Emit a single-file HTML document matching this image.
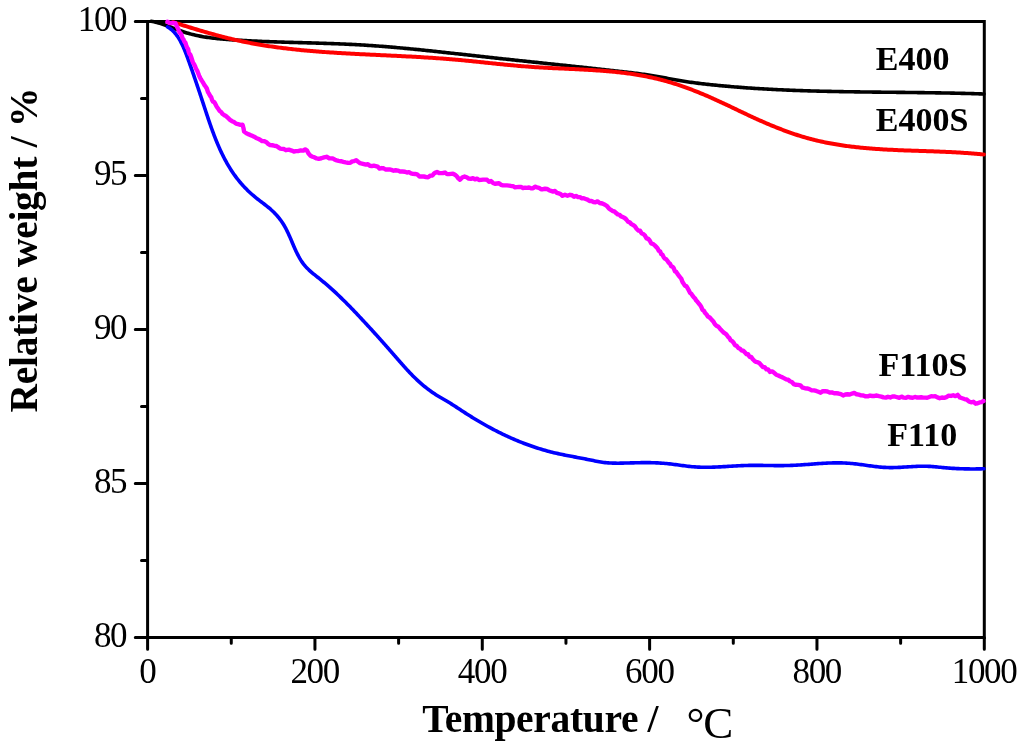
<!DOCTYPE html>
<html><head><meta charset="utf-8"><style>
html,body{margin:0;padding:0;background:#fff;width:1024px;height:748px;overflow:hidden}
svg{display:block;filter:blur(0.35px)}
.t{font-family:"Liberation Serif",serif;font-size:35px;letter-spacing:-1.3px;fill:#000}
.b{font-family:"Liberation Serif",serif;font-weight:bold;fill:#000}
</style></head><body>
<svg width="1024" height="748" viewBox="0 0 1024 748">
<rect x="0" y="0" width="1024" height="748" fill="#fff"/>
<g fill="none" stroke="#000" stroke-width="3" stroke-linecap="round">
<path d="M147.60,21.50 H984.30 V637.40 H147.60 Z" stroke-linecap="butt" stroke-linejoin="miter"/>
<path d="M147.60,637.40 V649.30 M314.94,637.40 V649.30 M482.28,637.40 V649.30 M649.62,637.40 V649.30 M816.96,637.40 V649.30 M984.30,637.40 V649.30 M231.27,637.40 V643.30 M398.61,637.40 V643.30 M565.95,637.40 V643.30 M733.29,637.40 V643.30 M900.63,637.40 V643.30 M135.30,637.40 H147.60 M135.30,483.42 H147.60 M135.30,329.45 H147.60 M135.30,175.47 H147.60 M135.30,21.50 H147.60 M141.50,560.41 H147.60 M141.50,406.44 H147.60 M141.50,252.46 H147.60 M141.50,98.49 H147.60"/>
</g>
<g fill="none" stroke-linecap="round" stroke-linejoin="round">
<path d="M151.12,21.24 L152.59,21.50 L154.07,21.80 L155.53,22.14 L156.99,22.50 L158.44,22.89 L159.88,23.31 L161.32,23.75 L162.74,24.22 L164.17,24.70 L165.58,25.20 L167.00,25.71 L168.41,26.23 L169.81,26.76 L171.21,27.29 L172.62,27.83 L174.02,28.38 L175.42,28.92 L176.82,29.45 L178.23,29.98 L179.63,30.51 L181.05,31.02 L182.46,31.52 L183.89,32.00 L185.32,32.46 L186.75,32.91 L188.19,33.33 L189.64,33.74 L191.09,34.13 L192.54,34.50 L194.00,34.85 L195.47,35.19 L196.93,35.51 L198.40,35.82 L199.88,36.11 L201.35,36.39 L202.83,36.66 L204.31,36.91 L205.79,37.14 L207.28,37.37 L208.77,37.58 L210.25,37.79 L211.74,37.98 L213.24,38.16 L214.73,38.33 L216.22,38.50 L217.71,38.65 L219.21,38.80 L220.70,38.94 L222.20,39.08 L223.70,39.20 L225.19,39.33 L226.69,39.44 L228.19,39.55 L229.69,39.66 L231.19,39.77 L232.68,39.87 L234.18,39.97 L235.68,40.06 L237.18,40.15 L238.68,40.25 L240.18,40.33 L241.68,40.42 L243.18,40.51 L244.68,40.59 L246.18,40.67 L247.68,40.75 L249.18,40.82 L250.68,40.90 L252.18,40.97 L253.68,41.04 L255.18,41.11 L256.68,41.17 L258.18,41.24 L259.68,41.30 L261.18,41.37 L262.68,41.43 L264.19,41.49 L265.69,41.54 L267.19,41.60 L268.69,41.66 L270.19,41.71 L271.69,41.76 L273.19,41.81 L274.69,41.87 L276.19,41.92 L277.69,41.96 L279.20,42.01 L280.70,42.06 L282.20,42.11 L283.70,42.15 L285.20,42.20 L286.70,42.24 L288.20,42.29 L289.71,42.33 L291.21,42.37 L292.71,42.42 L294.21,42.46 L295.71,42.50 L297.21,42.54 L298.71,42.59 L300.22,42.63 L301.72,42.67 L303.22,42.71 L304.72,42.75 L306.22,42.80 L307.72,42.84 L309.22,42.88 L310.73,42.92 L312.23,42.97 L313.73,43.01 L315.23,43.06 L316.73,43.10 L318.23,43.15 L319.73,43.19 L321.24,43.24 L322.74,43.29 L324.24,43.33 L325.74,43.38 L327.24,43.43 L328.74,43.48 L330.24,43.54 L331.74,43.59 L333.24,43.64 L334.75,43.70 L336.25,43.76 L337.75,43.81 L339.25,43.87 L340.75,43.94 L342.25,44.00 L343.75,44.06 L345.25,44.13 L346.75,44.19 L348.25,44.26 L349.75,44.33 L351.25,44.41 L352.75,44.48 L354.25,44.56 L355.75,44.64 L357.25,44.72 L358.75,44.80 L360.25,44.88 L361.75,44.97 L363.25,45.06 L364.75,45.15 L366.25,45.24 L367.75,45.34 L369.25,45.44 L370.75,45.54 L372.24,45.64 L373.74,45.75 L375.24,45.85 L376.74,45.96 L378.24,46.07 L379.74,46.18 L381.23,46.30 L382.73,46.41 L384.23,46.53 L385.73,46.65 L387.22,46.77 L388.72,46.89 L390.22,47.02 L391.71,47.14 L393.21,47.27 L394.71,47.40 L396.20,47.53 L397.70,47.67 L399.19,47.80 L400.69,47.94 L402.19,48.07 L403.68,48.21 L405.18,48.35 L406.67,48.49 L408.17,48.63 L409.66,48.78 L411.16,48.92 L412.65,49.07 L414.15,49.21 L415.64,49.36 L417.14,49.51 L418.63,49.66 L420.13,49.81 L421.62,49.97 L423.11,50.12 L424.61,50.27 L426.10,50.43 L427.60,50.59 L429.09,50.74 L430.58,50.90 L432.08,51.06 L433.57,51.22 L435.06,51.38 L436.56,51.54 L438.05,51.70 L439.55,51.86 L441.04,52.02 L442.53,52.18 L444.02,52.35 L445.52,52.51 L447.01,52.68 L448.50,52.84 L450.00,53.00 L451.49,53.17 L452.98,53.33 L454.48,53.50 L455.97,53.67 L457.46,53.83 L458.95,54.00 L460.45,54.16 L461.94,54.33 L463.43,54.50 L464.93,54.66 L466.42,54.83 L467.91,55.00 L469.40,55.16 L470.90,55.33 L472.39,55.50 L473.88,55.66 L475.37,55.83 L476.87,55.99 L478.36,56.16 L479.85,56.32 L481.35,56.49 L482.84,56.65 L484.33,56.82 L485.83,56.98 L487.32,57.14 L488.81,57.30 L490.31,57.47 L491.80,57.63 L493.29,57.79 L494.79,57.95 L496.28,58.12 L497.77,58.28 L499.27,58.44 L500.76,58.60 L502.25,58.76 L503.75,58.92 L505.24,59.08 L506.73,59.24 L508.23,59.40 L509.72,59.56 L511.21,59.72 L512.71,59.88 L514.20,60.04 L515.69,60.19 L517.19,60.35 L518.68,60.51 L520.17,60.67 L521.67,60.83 L523.16,60.99 L524.66,61.15 L526.15,61.30 L527.64,61.46 L529.14,61.62 L530.63,61.78 L532.12,61.93 L533.62,62.09 L535.11,62.25 L536.61,62.41 L538.10,62.57 L539.59,62.72 L541.09,62.88 L542.58,63.04 L544.07,63.20 L545.57,63.35 L547.06,63.51 L548.56,63.67 L550.05,63.83 L551.54,63.98 L553.04,64.14 L554.53,64.30 L556.02,64.46 L557.52,64.62 L559.01,64.77 L560.51,64.93 L562.00,65.09 L563.49,65.25 L564.99,65.41 L566.48,65.57 L567.97,65.72 L569.47,65.88 L570.96,66.04 L572.45,66.20 L573.95,66.36 L575.44,66.52 L576.93,66.68 L578.43,66.84 L579.92,67.00 L581.42,67.16 L582.91,67.32 L584.40,67.48 L585.90,67.64 L587.39,67.81 L588.88,67.97 L590.38,68.13 L591.87,68.29 L593.36,68.45 L594.85,68.62 L596.35,68.78 L597.84,68.94 L599.33,69.11 L600.83,69.27 L602.32,69.44 L603.81,69.60 L605.31,69.77 L606.80,69.93 L608.29,70.10 L609.78,70.26 L611.28,70.43 L612.77,70.60 L614.26,70.77 L615.76,70.93 L617.25,71.10 L618.74,71.27 L620.23,71.44 L621.73,71.61 L623.22,71.78 L624.71,71.95 L626.20,72.12 L627.69,72.30 L629.19,72.47 L630.68,72.65 L632.17,72.83 L633.66,73.01 L635.15,73.19 L636.64,73.38 L638.13,73.57 L639.62,73.76 L641.11,73.96 L642.60,74.16 L644.09,74.37 L645.57,74.58 L647.06,74.79 L648.55,75.01 L650.03,75.24 L651.51,75.47 L653.00,75.71 L654.48,75.95 L655.96,76.21 L657.44,76.46 L658.92,76.73 L660.40,77.00 L661.87,77.28 L663.35,77.56 L664.82,77.84 L666.30,78.13 L667.77,78.41 L669.25,78.70 L670.72,78.98 L672.20,79.26 L673.67,79.53 L675.15,79.80 L676.63,80.07 L678.11,80.33 L679.59,80.58 L681.07,80.82 L682.56,81.06 L684.04,81.29 L685.52,81.52 L687.01,81.74 L688.50,81.96 L689.98,82.17 L691.47,82.38 L692.96,82.58 L694.45,82.78 L695.94,82.97 L697.43,83.16 L698.92,83.35 L700.41,83.53 L701.90,83.70 L703.39,83.88 L704.89,84.05 L706.38,84.21 L707.87,84.38 L709.36,84.54 L710.86,84.70 L712.35,84.85 L713.85,85.01 L715.34,85.16 L716.84,85.31 L718.33,85.45 L719.83,85.60 L721.32,85.74 L722.82,85.88 L724.31,86.01 L725.81,86.15 L727.30,86.28 L728.80,86.41 L730.30,86.54 L731.79,86.67 L733.29,86.80 L734.79,86.92 L736.28,87.04 L737.78,87.16 L739.28,87.27 L740.78,87.39 L742.28,87.50 L743.77,87.61 L745.27,87.72 L746.77,87.83 L748.27,87.94 L749.77,88.04 L751.26,88.14 L752.76,88.24 L754.26,88.34 L755.76,88.44 L757.26,88.53 L758.76,88.62 L760.26,88.71 L761.76,88.80 L763.26,88.89 L764.76,88.98 L766.26,89.06 L767.76,89.14 L769.26,89.23 L770.76,89.31 L772.26,89.38 L773.76,89.46 L775.26,89.54 L776.76,89.61 L778.26,89.68 L779.76,89.75 L781.26,89.82 L782.76,89.89 L784.26,89.96 L785.76,90.02 L787.26,90.08 L788.76,90.15 L790.26,90.21 L791.76,90.27 L793.26,90.33 L794.76,90.38 L796.27,90.44 L797.77,90.49 L799.27,90.55 L800.77,90.60 L802.27,90.65 L803.77,90.70 L805.27,90.75 L806.77,90.80 L808.27,90.84 L809.78,90.89 L811.28,90.93 L812.78,90.97 L814.28,91.02 L815.78,91.06 L817.28,91.10 L818.78,91.14 L820.29,91.18 L821.79,91.21 L823.29,91.25 L824.79,91.29 L826.29,91.32 L827.79,91.36 L829.30,91.39 L830.80,91.42 L832.30,91.45 L833.80,91.48 L835.30,91.51 L836.80,91.54 L838.31,91.57 L839.81,91.60 L841.31,91.63 L842.81,91.65 L844.31,91.68 L845.82,91.70 L847.32,91.73 L848.82,91.75 L850.32,91.78 L851.82,91.80 L853.32,91.82 L854.83,91.85 L856.33,91.87 L857.83,91.89 L859.33,91.91 L860.83,91.93 L862.34,91.95 L863.84,91.97 L865.34,91.99 L866.84,92.01 L868.34,92.02 L869.85,92.04 L871.35,92.06 L872.85,92.08 L874.35,92.10 L875.85,92.11 L877.36,92.13 L878.86,92.15 L880.36,92.16 L881.86,92.18 L883.36,92.20 L884.87,92.21 L886.37,92.23 L887.87,92.24 L889.37,92.26 L890.87,92.28 L892.37,92.29 L893.88,92.31 L895.38,92.32 L896.88,92.34 L898.38,92.36 L899.88,92.37 L901.39,92.39 L902.89,92.40 L904.39,92.42 L905.89,92.44 L907.39,92.45 L908.90,92.47 L910.40,92.49 L911.90,92.51 L913.40,92.52 L914.90,92.54 L916.41,92.56 L917.91,92.58 L919.41,92.60 L920.91,92.62 L922.41,92.64 L923.92,92.66 L925.42,92.68 L926.92,92.70 L928.42,92.72 L929.92,92.74 L931.42,92.76 L932.93,92.79 L934.43,92.81 L935.93,92.83 L937.43,92.86 L938.93,92.88 L940.44,92.91 L941.94,92.93 L943.44,92.96 L944.94,92.99 L946.44,93.02 L947.94,93.04 L949.45,93.07 L950.95,93.10 L952.45,93.14 L953.95,93.17 L955.45,93.20 L956.96,93.23 L958.46,93.27 L959.96,93.30 L961.46,93.34 L962.96,93.38 L964.46,93.41 L965.96,93.45 L967.47,93.49 L968.97,93.53 L970.47,93.57 L971.97,93.62 L973.47,93.66 L974.97,93.70 L976.47,93.75 L977.98,93.80 L979.48,93.84 L980.98,93.89 L982.48,93.94 L983.98,94.00" stroke="#000" stroke-width="3.6"/>
<path d="M173.06,22.20 L174.49,22.65 L175.92,23.10 L177.36,23.54 L178.79,23.99 L180.22,24.43 L181.65,24.88 L183.09,25.32 L184.52,25.77 L185.95,26.21 L187.39,26.65 L188.82,27.09 L190.26,27.53 L191.69,27.97 L193.13,28.41 L194.56,28.84 L196.00,29.28 L197.43,29.71 L198.87,30.14 L200.31,30.57 L201.75,30.99 L203.19,31.41 L204.63,31.83 L206.07,32.25 L207.51,32.67 L208.96,33.08 L210.40,33.49 L211.84,33.89 L213.29,34.29 L214.74,34.69 L216.18,35.09 L217.63,35.48 L219.08,35.87 L220.53,36.25 L221.98,36.63 L223.44,37.00 L224.89,37.37 L226.34,37.74 L227.80,38.10 L229.26,38.46 L230.72,38.81 L232.18,39.15 L233.64,39.49 L235.10,39.83 L236.56,40.16 L238.03,40.48 L239.50,40.80 L240.96,41.11 L242.43,41.42 L243.90,41.73 L245.37,42.02 L246.84,42.32 L248.31,42.61 L249.79,42.89 L251.26,43.17 L252.74,43.44 L254.21,43.71 L255.69,43.98 L257.17,44.23 L258.65,44.49 L260.13,44.74 L261.61,44.99 L263.09,45.23 L264.57,45.47 L266.05,45.70 L267.53,45.93 L269.02,46.15 L270.50,46.37 L271.99,46.59 L273.47,46.80 L274.96,47.01 L276.44,47.21 L277.93,47.41 L279.42,47.61 L280.91,47.80 L282.39,47.99 L283.88,48.18 L285.37,48.36 L286.86,48.54 L288.35,48.71 L289.84,48.88 L291.33,49.05 L292.82,49.22 L294.32,49.38 L295.81,49.54 L297.30,49.69 L298.79,49.84 L300.29,49.99 L301.78,50.14 L303.27,50.28 L304.77,50.42 L306.26,50.56 L307.75,50.69 L309.25,50.83 L310.74,50.95 L312.24,51.08 L313.73,51.21 L315.23,51.33 L316.72,51.45 L318.22,51.57 L319.72,51.68 L321.21,51.79 L322.71,51.90 L324.21,52.01 L325.70,52.12 L327.20,52.22 L328.70,52.33 L330.19,52.43 L331.69,52.53 L333.19,52.62 L334.68,52.72 L336.18,52.81 L337.68,52.90 L339.18,52.99 L340.67,53.08 L342.17,53.17 L343.67,53.26 L345.17,53.34 L346.67,53.43 L348.16,53.51 L349.66,53.59 L351.16,53.67 L352.66,53.75 L354.16,53.83 L355.66,53.91 L357.15,53.98 L358.65,54.06 L360.15,54.14 L361.65,54.21 L363.15,54.28 L364.65,54.36 L366.14,54.43 L367.64,54.50 L369.14,54.58 L370.64,54.65 L372.14,54.72 L373.64,54.79 L375.14,54.86 L376.64,54.93 L378.13,55.00 L379.63,55.07 L381.13,55.14 L382.63,55.21 L384.13,55.28 L385.63,55.35 L387.13,55.42 L388.62,55.49 L390.12,55.57 L391.62,55.64 L393.12,55.71 L394.62,55.78 L396.12,55.85 L397.62,55.93 L399.11,56.00 L400.61,56.08 L402.11,56.15 L403.61,56.23 L405.11,56.30 L406.61,56.38 L408.11,56.46 L409.60,56.54 L411.10,56.62 L412.60,56.70 L414.10,56.78 L415.60,56.86 L417.09,56.95 L418.59,57.03 L420.09,57.12 L421.59,57.21 L423.09,57.30 L424.58,57.39 L426.08,57.48 L427.58,57.57 L429.08,57.67 L430.57,57.76 L432.07,57.86 L433.57,57.96 L435.06,58.06 L436.56,58.17 L438.06,58.27 L439.55,58.38 L441.05,58.49 L442.55,58.60 L444.04,58.71 L445.54,58.82 L447.03,58.94 L448.53,59.06 L450.03,59.18 L451.52,59.31 L453.02,59.43 L454.51,59.56 L456.00,59.69 L457.50,59.82 L458.99,59.96 L460.49,60.10 L461.98,60.24 L463.48,60.38 L464.97,60.52 L466.46,60.67 L467.96,60.81 L469.45,60.96 L470.94,61.11 L472.43,61.26 L473.93,61.41 L475.42,61.56 L476.91,61.72 L478.40,61.87 L479.90,62.03 L481.39,62.18 L482.88,62.34 L484.37,62.49 L485.87,62.65 L487.36,62.81 L488.85,62.96 L490.34,63.12 L491.83,63.27 L493.33,63.43 L494.82,63.58 L496.31,63.74 L497.80,63.89 L499.30,64.04 L500.79,64.19 L502.28,64.34 L503.78,64.49 L505.27,64.64 L506.76,64.79 L508.25,64.93 L509.75,65.07 L511.24,65.21 L512.74,65.35 L514.23,65.49 L515.72,65.62 L517.22,65.76 L518.71,65.89 L520.21,66.01 L521.70,66.14 L523.20,66.26 L524.69,66.38 L526.19,66.50 L527.69,66.61 L529.18,66.72 L530.68,66.83 L532.18,66.93 L533.67,67.03 L535.17,67.13 L536.67,67.23 L538.16,67.32 L539.66,67.41 L541.16,67.50 L542.66,67.58 L544.16,67.67 L545.65,67.75 L547.15,67.83 L548.65,67.90 L550.15,67.98 L551.65,68.06 L553.15,68.13 L554.65,68.20 L556.14,68.27 L557.64,68.35 L559.14,68.42 L560.64,68.49 L562.14,68.55 L563.64,68.62 L565.14,68.69 L566.63,68.76 L568.13,68.83 L569.63,68.90 L571.13,68.97 L572.63,69.04 L574.13,69.12 L575.63,69.19 L577.13,69.26 L578.62,69.34 L580.12,69.41 L581.62,69.49 L583.12,69.57 L584.62,69.65 L586.12,69.74 L587.61,69.82 L589.11,69.91 L590.61,70.00 L592.11,70.09 L593.60,70.19 L595.10,70.28 L596.60,70.38 L598.09,70.49 L599.59,70.59 L601.09,70.71 L602.58,70.82 L604.08,70.94 L605.57,71.06 L607.07,71.18 L608.56,71.31 L610.06,71.45 L611.55,71.59 L613.05,71.73 L614.54,71.88 L616.03,72.03 L617.52,72.19 L619.02,72.35 L620.51,72.52 L622.00,72.69 L623.49,72.87 L624.97,73.05 L626.46,73.24 L627.95,73.44 L629.44,73.64 L630.92,73.85 L632.41,74.07 L633.89,74.29 L635.37,74.52 L636.86,74.76 L638.34,75.00 L639.81,75.25 L641.29,75.51 L642.77,75.78 L644.24,76.05 L645.72,76.33 L647.19,76.62 L648.66,76.92 L650.13,77.23 L651.60,77.54 L653.06,77.86 L654.53,78.20 L655.99,78.54 L657.45,78.89 L658.90,79.24 L660.36,79.61 L661.81,79.99 L663.26,80.37 L664.71,80.77 L666.15,81.17 L667.60,81.58 L669.04,82.00 L670.47,82.43 L671.91,82.86 L673.34,83.31 L674.77,83.76 L676.20,84.21 L677.63,84.68 L679.05,85.15 L680.48,85.63 L681.89,86.12 L683.31,86.61 L684.73,87.11 L686.14,87.62 L687.55,88.13 L688.96,88.65 L690.36,89.18 L691.76,89.71 L693.16,90.25 L694.56,90.79 L695.96,91.34 L697.35,91.90 L698.74,92.46 L700.13,93.02 L701.52,93.60 L702.90,94.17 L704.29,94.75 L705.67,95.34 L707.05,95.93 L708.42,96.53 L709.80,97.13 L711.17,97.73 L712.54,98.34 L713.91,98.96 L715.28,99.58 L716.65,100.20 L718.01,100.82 L719.37,101.45 L720.73,102.08 L722.09,102.72 L723.45,103.35 L724.81,103.99 L726.17,104.63 L727.52,105.27 L728.88,105.92 L730.23,106.56 L731.59,107.21 L732.94,107.86 L734.29,108.50 L735.65,109.15 L737.00,109.80 L738.35,110.44 L739.71,111.09 L741.06,111.74 L742.42,112.38 L743.77,113.02 L745.13,113.67 L746.49,114.31 L747.84,114.94 L749.20,115.58 L750.56,116.21 L751.92,116.84 L753.29,117.47 L754.65,118.09 L756.02,118.71 L757.38,119.33 L758.75,119.95 L760.12,120.56 L761.50,121.17 L762.87,121.77 L764.24,122.37 L765.62,122.97 L767.00,123.56 L768.38,124.15 L769.76,124.73 L771.15,125.31 L772.53,125.88 L773.92,126.45 L775.31,127.01 L776.70,127.57 L778.10,128.13 L779.50,128.67 L780.89,129.22 L782.30,129.75 L783.70,130.28 L785.10,130.81 L786.51,131.33 L787.92,131.84 L789.34,132.34 L790.75,132.84 L792.17,133.33 L793.59,133.82 L795.01,134.30 L796.43,134.77 L797.86,135.23 L799.29,135.68 L800.72,136.13 L802.16,136.57 L803.60,137.00 L805.03,137.43 L806.48,137.84 L807.92,138.24 L809.37,138.64 L810.82,139.03 L812.27,139.41 L813.72,139.78 L815.18,140.14 L816.64,140.49 L818.10,140.84 L819.56,141.17 L821.02,141.50 L822.49,141.82 L823.96,142.13 L825.43,142.43 L826.90,142.73 L828.37,143.02 L829.85,143.30 L831.32,143.57 L832.80,143.84 L834.28,144.09 L835.75,144.34 L837.23,144.59 L838.72,144.83 L840.20,145.06 L841.68,145.28 L843.17,145.50 L844.65,145.71 L846.14,145.91 L847.63,146.11 L849.11,146.31 L850.60,146.49 L852.09,146.67 L853.58,146.85 L855.07,147.02 L856.56,147.19 L858.06,147.35 L859.55,147.50 L861.04,147.65 L862.53,147.79 L864.03,147.93 L865.52,148.07 L867.02,148.20 L868.51,148.33 L870.01,148.45 L871.50,148.57 L873.00,148.68 L874.49,148.79 L875.99,148.90 L877.49,149.00 L878.99,149.10 L880.48,149.20 L881.98,149.29 L883.48,149.38 L884.98,149.47 L886.47,149.55 L887.97,149.63 L889.47,149.71 L890.97,149.79 L892.47,149.86 L893.97,149.93 L895.46,150.00 L896.96,150.07 L898.46,150.13 L899.96,150.20 L901.46,150.26 L902.96,150.32 L904.46,150.38 L905.96,150.44 L907.46,150.49 L908.96,150.55 L910.46,150.60 L911.96,150.65 L913.45,150.71 L914.95,150.76 L916.45,150.81 L917.95,150.86 L919.45,150.91 L920.95,150.96 L922.45,151.01 L923.95,151.06 L925.45,151.11 L926.95,151.16 L928.45,151.21 L929.95,151.26 L931.45,151.32 L932.95,151.37 L934.45,151.42 L935.95,151.48 L937.45,151.53 L938.95,151.59 L940.44,151.65 L941.94,151.71 L943.44,151.77 L944.94,151.84 L946.44,151.90 L947.94,151.97 L949.44,152.04 L950.94,152.11 L952.44,152.19 L953.93,152.26 L955.43,152.34 L956.93,152.43 L958.43,152.51 L959.93,152.60 L961.42,152.69 L962.92,152.78 L964.42,152.88 L965.91,152.98 L967.41,153.09 L968.91,153.20 L970.40,153.31 L971.90,153.43 L973.39,153.55 L974.89,153.67 L976.38,153.80 L977.88,153.94 L979.37,154.08 L980.87,154.22 L982.36,154.37 L983.85,154.53" stroke="#ff0000" stroke-width="4.0"/>
<path d="M167.55,26.95 L168.84,27.71 L170.09,28.55 L171.28,29.46 L172.41,30.44 L173.50,31.48 L174.52,32.57 L175.50,33.71 L176.42,34.90 L177.30,36.11 L178.14,37.36 L178.94,38.63 L179.70,39.91 L180.44,41.22 L181.14,42.55 L181.82,43.88 L182.48,45.23 L183.11,46.60 L183.71,47.97 L184.30,49.35 L184.88,50.73 L185.43,52.13 L185.98,53.53 L186.51,54.93 L187.03,56.33 L187.55,57.74 L188.06,59.15 L188.57,60.56 L189.08,61.98 L189.58,63.39 L190.09,64.80 L190.59,66.22 L191.09,67.63 L191.58,69.05 L192.08,70.46 L192.57,71.88 L193.07,73.30 L193.56,74.71 L194.04,76.13 L194.53,77.55 L195.02,78.97 L195.50,80.39 L195.99,81.81 L196.47,83.23 L196.95,84.65 L197.43,86.08 L197.91,87.50 L198.38,88.92 L198.86,90.34 L199.33,91.77 L199.81,93.19 L200.28,94.61 L200.75,96.04 L201.22,97.46 L201.69,98.89 L202.16,100.31 L202.63,101.74 L203.10,103.16 L203.57,104.59 L204.03,106.01 L204.50,107.44 L204.97,108.86 L205.44,110.29 L205.91,111.72 L206.38,113.14 L206.85,114.56 L207.32,115.99 L207.80,117.41 L208.27,118.83 L208.75,120.25 L209.24,121.67 L209.73,123.09 L210.22,124.51 L210.71,125.93 L211.21,127.34 L211.72,128.75 L212.23,130.17 L212.74,131.57 L213.26,132.98 L213.79,134.39 L214.33,135.79 L214.87,137.19 L215.41,138.58 L215.97,139.98 L216.53,141.37 L217.10,142.76 L217.68,144.14 L218.27,145.52 L218.87,146.90 L219.48,148.27 L220.10,149.63 L220.72,151.00 L221.36,152.36 L222.01,153.71 L222.67,155.06 L223.34,156.40 L224.02,157.73 L224.72,159.06 L225.42,160.39 L226.14,161.70 L226.87,163.01 L227.62,164.32 L228.38,165.61 L229.15,166.90 L229.93,168.18 L230.73,169.44 L231.55,170.70 L232.38,171.96 L233.22,173.20 L234.08,174.43 L234.95,175.65 L235.84,176.86 L236.74,178.05 L237.66,179.24 L238.59,180.42 L239.54,181.58 L240.51,182.73 L241.49,183.86 L242.48,184.99 L243.49,186.10 L244.52,187.19 L245.55,188.27 L246.61,189.34 L247.67,190.40 L248.75,191.44 L249.85,192.47 L250.95,193.48 L252.07,194.48 L253.21,195.46 L254.35,196.43 L255.51,197.38 L256.68,198.32 L257.86,199.25 L259.05,200.16 L260.24,201.08 L261.44,201.99 L262.63,202.89 L263.82,203.80 L265.01,204.72 L266.19,205.64 L267.37,206.58 L268.53,207.52 L269.68,208.49 L270.82,209.47 L271.93,210.47 L273.03,211.50 L274.10,212.55 L275.15,213.62 L276.17,214.71 L277.18,215.83 L278.15,216.97 L279.10,218.13 L280.02,219.32 L280.91,220.52 L281.77,221.75 L282.61,223.00 L283.41,224.27 L284.18,225.55 L284.93,226.86 L285.65,228.17 L286.34,229.50 L287.02,230.84 L287.68,232.19 L288.31,233.55 L288.94,234.91 L289.55,236.28 L290.15,237.65 L290.75,239.03 L291.34,240.41 L291.92,241.79 L292.51,243.17 L293.10,244.55 L293.69,245.93 L294.28,247.31 L294.89,248.68 L295.51,250.05 L296.14,251.41 L296.79,252.76 L297.46,254.11 L298.14,255.44 L298.85,256.76 L299.59,258.07 L300.36,259.36 L301.15,260.63 L301.98,261.88 L302.85,263.11 L303.75,264.31 L304.69,265.47 L305.67,266.61 L306.69,267.71 L307.74,268.78 L308.82,269.83 L309.92,270.84 L311.04,271.84 L312.18,272.82 L313.33,273.78 L314.49,274.73 L315.66,275.66 L316.84,276.60 L318.02,277.53 L319.19,278.46 L320.36,279.40 L321.53,280.34 L322.69,281.29 L323.85,282.25 L325.00,283.21 L326.14,284.18 L327.28,285.16 L328.41,286.14 L329.54,287.13 L330.66,288.13 L331.78,289.13 L332.89,290.14 L334.00,291.15 L335.10,292.17 L336.20,293.19 L337.29,294.22 L338.38,295.25 L339.46,296.29 L340.55,297.33 L341.62,298.37 L342.69,299.42 L343.76,300.47 L344.83,301.53 L345.89,302.59 L346.95,303.66 L348.00,304.72 L349.05,305.79 L350.10,306.87 L351.15,307.94 L352.19,309.02 L353.23,310.10 L354.27,311.19 L355.30,312.27 L356.33,313.36 L357.37,314.45 L358.39,315.54 L359.42,316.64 L360.45,317.73 L361.47,318.83 L362.49,319.92 L363.52,321.02 L364.54,322.12 L365.56,323.22 L366.58,324.32 L367.59,325.43 L368.61,326.53 L369.63,327.63 L370.64,328.74 L371.65,329.84 L372.67,330.95 L373.68,332.06 L374.69,333.17 L375.70,334.28 L376.70,335.39 L377.71,336.51 L378.71,337.62 L379.72,338.74 L380.72,339.85 L381.72,340.97 L382.72,342.09 L383.71,343.21 L384.71,344.34 L385.70,345.46 L386.70,346.58 L387.69,347.71 L388.68,348.84 L389.66,349.97 L390.65,351.10 L391.63,352.23 L392.61,353.37 L393.60,354.50 L394.58,355.64 L395.56,356.77 L396.54,357.91 L397.52,359.04 L398.50,360.17 L399.49,361.30 L400.48,362.43 L401.47,363.56 L402.46,364.68 L403.46,365.80 L404.46,366.92 L405.47,368.03 L406.48,369.14 L407.50,370.24 L408.53,371.34 L409.56,372.43 L410.60,373.51 L411.64,374.59 L412.69,375.66 L413.75,376.72 L414.82,377.77 L415.90,378.81 L416.99,379.84 L418.09,380.87 L419.20,381.88 L420.32,382.88 L421.45,383.86 L422.59,384.84 L423.74,385.80 L424.90,386.75 L426.07,387.69 L427.25,388.61 L428.45,389.52 L429.65,390.41 L430.87,391.29 L432.10,392.15 L433.34,393.00 L434.59,393.83 L435.85,394.64 L437.12,395.43 L438.41,396.21 L439.70,396.97 L440.99,397.73 L442.29,398.48 L443.59,399.23 L444.89,399.98 L446.18,400.74 L447.47,401.51 L448.75,402.29 L450.03,403.08 L451.30,403.88 L452.56,404.69 L453.83,405.50 L455.09,406.31 L456.34,407.13 L457.60,407.95 L458.85,408.77 L460.11,409.60 L461.36,410.42 L462.62,411.24 L463.87,412.06 L465.13,412.88 L466.39,413.69 L467.66,414.50 L468.93,415.30 L470.20,416.09 L471.47,416.89 L472.75,417.67 L474.03,418.46 L475.31,419.23 L476.60,420.01 L477.89,420.77 L479.18,421.53 L480.48,422.29 L481.78,423.04 L483.08,423.79 L484.38,424.53 L485.69,425.26 L487.00,425.99 L488.32,426.71 L489.63,427.43 L490.96,428.14 L492.28,428.85 L493.61,429.55 L494.94,430.24 L496.27,430.93 L497.61,431.61 L498.95,432.28 L500.29,432.95 L501.64,433.61 L502.99,434.26 L504.34,434.91 L505.70,435.55 L507.06,436.19 L508.42,436.81 L509.79,437.43 L511.16,438.05 L512.53,438.65 L513.91,439.25 L515.29,439.84 L516.67,440.42 L518.06,441.00 L519.44,441.56 L520.84,442.12 L522.23,442.68 L523.63,443.22 L525.03,443.76 L526.44,444.28 L527.84,444.80 L529.25,445.31 L530.67,445.81 L532.08,446.31 L533.50,446.79 L534.93,447.27 L536.35,447.74 L537.78,448.20 L539.21,448.65 L540.65,449.09 L542.08,449.52 L543.52,449.94 L544.97,450.35 L546.41,450.76 L547.86,451.15 L549.31,451.53 L550.76,451.91 L552.22,452.27 L553.67,452.63 L555.13,452.97 L556.60,453.31 L558.06,453.63 L559.53,453.95 L560.99,454.27 L562.46,454.57 L563.93,454.87 L565.40,455.17 L566.88,455.46 L568.35,455.75 L569.82,456.03 L571.30,456.31 L572.77,456.59 L574.24,456.87 L575.72,457.14 L577.19,457.42 L578.67,457.70 L580.14,457.97 L581.62,458.25 L583.09,458.54 L584.56,458.82 L586.03,459.11 L587.51,459.41 L588.98,459.70 L590.45,460.01 L591.92,460.31 L593.39,460.61 L594.86,460.90 L596.33,461.19 L597.80,461.47 L599.28,461.73 L600.76,461.98 L602.24,462.21 L603.73,462.42 L605.22,462.60 L606.71,462.75 L608.20,462.88 L609.70,462.98 L611.20,463.06 L612.70,463.11 L614.20,463.15 L615.70,463.17 L617.20,463.18 L618.70,463.18 L620.20,463.16 L621.70,463.14 L623.20,463.11 L624.70,463.07 L626.20,463.04 L627.70,463.00 L629.20,462.96 L630.70,462.92 L632.20,462.87 L633.70,462.83 L635.20,462.79 L636.70,462.76 L638.20,462.72 L639.70,462.70 L641.20,462.67 L642.70,462.65 L644.20,462.64 L645.70,462.63 L647.20,462.63 L648.70,462.64 L650.20,462.66 L651.70,462.69 L653.20,462.73 L654.70,462.78 L656.20,462.84 L657.70,462.91 L659.19,462.99 L660.69,463.09 L662.19,463.19 L663.68,463.31 L665.18,463.43 L666.67,463.57 L668.17,463.72 L669.66,463.89 L671.15,464.06 L672.64,464.25 L674.12,464.44 L675.61,464.63 L677.10,464.83 L678.59,465.04 L680.07,465.24 L681.56,465.44 L683.05,465.64 L684.53,465.84 L686.02,466.03 L687.51,466.21 L689.00,466.38 L690.49,466.54 L691.99,466.68 L693.48,466.81 L694.98,466.92 L696.47,467.02 L697.97,467.10 L699.47,467.16 L700.97,467.21 L702.47,467.24 L703.97,467.26 L705.47,467.27 L706.97,467.27 L708.47,467.25 L709.97,467.23 L711.47,467.19 L712.97,467.15 L714.47,467.10 L715.97,467.04 L717.47,466.98 L718.97,466.90 L720.47,466.83 L721.96,466.75 L723.46,466.66 L724.96,466.58 L726.46,466.49 L727.96,466.40 L729.45,466.31 L730.95,466.22 L732.45,466.13 L733.95,466.04 L735.44,465.96 L736.94,465.88 L738.44,465.80 L739.94,465.73 L741.44,465.66 L742.94,465.60 L744.44,465.54 L745.94,465.49 L747.43,465.46 L748.93,465.42 L750.44,465.40 L751.94,465.39 L753.44,465.38 L754.94,465.37 L756.44,465.38 L757.94,465.38 L759.44,465.39 L760.94,465.41 L762.44,465.42 L763.94,465.44 L765.44,465.46 L766.94,465.48 L768.44,465.50 L769.94,465.52 L771.44,465.54 L772.94,465.56 L774.44,465.58 L775.94,465.59 L777.44,465.60 L778.94,465.60 L780.44,465.60 L781.94,465.60 L783.44,465.59 L784.94,465.57 L786.44,465.55 L787.94,465.51 L789.44,465.47 L790.94,465.42 L792.44,465.36 L793.94,465.30 L795.44,465.22 L796.93,465.14 L798.43,465.05 L799.93,464.96 L801.43,464.86 L802.92,464.76 L804.42,464.65 L805.92,464.55 L807.41,464.44 L808.91,464.33 L810.40,464.21 L811.90,464.10 L813.40,463.99 L814.89,463.88 L816.39,463.77 L817.89,463.67 L819.38,463.56 L820.88,463.47 L822.38,463.37 L823.88,463.29 L825.37,463.20 L826.87,463.13 L828.37,463.06 L829.87,463.00 L831.37,462.95 L832.87,462.91 L834.37,462.88 L835.87,462.86 L837.37,462.85 L838.87,462.86 L840.37,462.88 L841.87,462.91 L843.37,462.95 L844.87,463.01 L846.37,463.09 L847.86,463.18 L849.36,463.29 L850.86,463.42 L852.35,463.56 L853.84,463.72 L855.33,463.88 L856.82,464.06 L858.31,464.25 L859.80,464.44 L861.29,464.64 L862.77,464.84 L864.26,465.05 L865.74,465.26 L867.23,465.46 L868.72,465.67 L870.20,465.88 L871.69,466.07 L873.18,466.27 L874.67,466.45 L876.16,466.63 L877.65,466.80 L879.14,466.95 L880.63,467.09 L882.13,467.22 L883.62,467.33 L885.12,467.42 L886.62,467.50 L888.12,467.55 L889.62,467.58 L891.12,467.59 L892.62,467.58 L894.12,467.56 L895.62,467.52 L897.12,467.47 L898.62,467.40 L900.12,467.33 L901.61,467.25 L903.11,467.16 L904.61,467.06 L906.11,466.97 L907.60,466.87 L909.10,466.78 L910.60,466.68 L912.10,466.59 L913.59,466.51 L915.09,466.43 L916.59,466.36 L918.09,466.30 L919.59,466.26 L921.09,466.22 L922.59,466.21 L924.09,466.21 L925.59,466.23 L927.09,466.27 L928.59,466.33 L930.09,466.41 L931.58,466.51 L933.08,466.62 L934.58,466.75 L936.07,466.88 L937.56,467.02 L939.06,467.17 L940.55,467.31 L942.04,467.46 L943.54,467.61 L945.03,467.75 L946.52,467.88 L948.02,468.01 L949.51,468.12 L951.01,468.23 L952.51,468.33 L954.01,468.42 L955.50,468.51 L957.00,468.58 L958.50,468.65 L960.00,468.71 L961.50,468.76 L963.00,468.81 L964.50,468.85 L966.00,468.88 L967.50,468.90 L969.00,468.92 L970.50,468.93 L972.00,468.94 L973.50,468.94 L975.00,468.93 L976.50,468.92 L978.00,468.90 L979.50,468.88 L981.00,468.85 L982.50,468.82 L984.00,468.78" stroke="#0000ff" stroke-width="3.6"/>
<path d="M167.40,21.78 L169.70,23.09 L172.00,23.05 L175.40,23.18 L177.00,26.79 L177.90,28.51 L178.80,30.66 L179.70,32.69 L180.60,33.31 L181.55,35.02 L182.50,38.22 L183.45,39.36 L184.40,41.75 L185.30,42.45 L186.20,45.21 L187.10,47.68 L188.00,48.84 L188.75,52.06 L189.50,53.98 L190.25,54.50 L191.00,56.49 L192.03,59.77 L193.07,62.85 L194.10,64.30 L195.17,66.42 L196.23,69.17 L197.30,70.90 L198.20,73.23 L199.10,75.59 L200.00,77.69 L200.90,79.25 L202.10,81.09 L203.30,82.92 L204.50,85.18 L205.70,86.74 L206.83,88.52 L207.97,92.14 L209.10,93.90 L210.10,95.87 L211.10,96.92 L212.10,100.11 L213.10,101.71 L214.28,102.13 L215.45,104.17 L216.62,106.50 L217.80,108.16 L219.40,110.64 L221.00,111.87 L222.67,114.03 L224.33,115.22 L226.00,116.07 L228.00,117.95 L230.00,119.85 L232.00,121.19 L234.00,122.04 L236.00,123.62 L238.00,124.11 L240.50,124.86 L242.50,124.71 L243.03,126.49 L243.57,128.51 L244.10,131.58 L246.10,133.05 L248.10,134.20 L250.10,134.89 L252.10,135.80 L254.10,136.71 L256.10,137.97 L258.10,138.74 L260.10,139.72 L262.10,141.08 L264.10,141.10 L266.10,141.92 L268.10,143.85 L270.13,145.12 L272.17,145.26 L274.20,145.72 L276.15,145.96 L278.10,147.14 L280.05,148.57 L282.00,148.83 L283.95,149.05 L285.90,150.21 L288.80,149.64 L291.70,150.62 L293.80,151.57 L295.90,151.13 L298.00,151.13 L300.70,150.46 L303.40,150.58 L305.20,149.38 L307.00,150.66 L308.75,153.83 L310.50,155.74 L312.55,156.76 L314.60,157.41 L316.65,158.43 L318.70,158.83 L321.35,158.25 L324.00,157.37 L326.60,156.80 L329.20,158.23 L331.08,158.42 L332.96,158.49 L334.84,159.71 L336.72,160.37 L338.60,160.86 L340.94,161.20 L343.28,161.89 L345.62,162.39 L347.96,162.73 L350.30,162.83 L352.27,161.40 L354.23,161.04 L356.20,160.25 L358.10,161.79 L360.00,163.11 L361.98,163.53 L363.95,164.06 L365.92,164.61 L367.90,164.18 L369.85,165.76 L371.80,166.06 L373.75,165.64 L375.70,166.11 L377.65,166.69 L379.60,168.53 L381.57,168.07 L383.53,168.24 L385.50,169.51 L387.47,169.44 L389.43,169.37 L391.40,169.92 L393.55,170.70 L395.70,170.24 L397.85,170.56 L400.00,171.46 L402.50,171.47 L405.00,171.70 L407.00,172.46 L409.00,172.19 L411.00,173.31 L413.00,173.87 L415.00,173.97 L417.19,174.46 L419.38,176.43 L421.56,176.39 L423.75,176.51 L425.94,177.00 L428.12,177.19 L430.31,175.66 L432.50,175.48 L433.75,173.80 L435.00,172.87 L437.00,172.02 L439.00,173.05 L441.00,173.10 L443.00,172.98 L445.00,172.53 L447.00,174.11 L449.00,174.11 L451.00,173.93 L453.00,173.73 L455.00,174.75 L456.67,176.15 L458.33,178.30 L460.00,179.70 L462.50,177.22 L464.58,176.54 L466.67,177.24 L468.75,178.67 L470.83,178.81 L472.92,178.13 L475.00,179.36 L477.00,178.68 L479.00,180.00 L481.00,179.91 L483.00,179.61 L485.00,179.58 L487.00,179.76 L489.00,181.84 L491.00,181.01 L493.00,182.94 L495.00,183.79 L497.00,183.52 L499.00,183.24 L501.00,184.83 L503.00,185.41 L505.00,185.35 L507.00,185.42 L509.00,185.59 L511.00,185.94 L513.00,186.10 L515.00,187.30 L517.00,187.09 L519.00,186.88 L521.00,186.93 L523.00,188.08 L525.00,187.65 L527.00,187.90 L529.00,187.50 L531.00,188.33 L533.00,188.28 L535.00,186.68 L537.00,187.29 L539.00,187.81 L541.00,189.23 L543.00,189.18 L545.00,188.73 L547.00,188.96 L549.00,190.20 L551.00,190.92 L553.00,191.53 L555.00,190.98 L556.88,192.84 L558.75,193.44 L560.62,194.04 L562.50,195.83 L565.00,194.72 L567.50,195.72 L570.00,194.79 L572.00,195.24 L574.00,196.80 L576.00,195.91 L578.00,197.14 L580.00,197.17 L581.88,198.33 L583.75,198.28 L585.62,198.98 L587.50,199.65 L589.50,201.02 L591.50,200.98 L593.50,201.97 L595.50,202.26 L597.50,201.38 L599.70,202.99 L602.35,203.53 L605.00,204.72 L607.05,206.07 L609.10,208.72 L610.85,209.77 L612.60,211.03 L614.35,211.38 L616.10,213.03 L617.85,214.50 L619.60,214.99 L621.29,216.49 L622.97,217.07 L624.66,218.00 L626.34,219.49 L628.03,221.72 L629.71,222.34 L631.40,224.12 L633.12,224.97 L634.84,226.30 L636.56,228.81 L638.28,230.52 L640.00,230.77 L641.67,233.44 L643.33,234.01 L645.00,235.60 L646.56,238.47 L648.12,238.59 L649.69,240.49 L651.25,243.33 L652.81,243.93 L654.38,244.97 L655.94,246.62 L657.50,248.31 L658.75,250.73 L660.00,251.20 L661.25,254.14 L662.50,254.79 L663.75,257.36 L665.00,258.82 L666.25,259.34 L667.50,260.83 L668.75,262.77 L670.00,263.70 L671.25,266.20 L672.50,266.72 L673.75,268.23 L675.00,271.45 L676.25,271.84 L677.50,273.91 L678.75,275.54 L680.00,277.18 L681.25,278.63 L682.50,281.95 L683.75,283.92 L685.00,285.80 L686.25,286.06 L687.50,287.95 L688.75,290.36 L690.00,292.69 L691.25,293.67 L692.50,295.63 L693.75,297.31 L695.00,298.34 L696.25,300.54 L697.50,301.86 L698.75,303.48 L700.00,304.91 L701.25,306.97 L702.50,309.88 L703.75,310.69 L705.00,312.76 L706.43,314.35 L707.86,316.46 L709.29,317.14 L710.71,318.60 L712.14,320.24 L713.57,321.83 L715.00,324.34 L716.43,325.85 L717.86,326.27 L719.29,327.75 L720.71,329.54 L722.14,331.03 L723.57,332.48 L725.00,333.32 L726.43,334.54 L727.86,336.53 L729.29,337.84 L730.71,340.27 L732.14,341.06 L733.57,342.67 L735.00,345.23 L736.67,345.89 L738.33,348.00 L740.00,348.74 L741.67,350.62 L743.33,350.66 L745.00,352.50 L746.56,354.25 L748.12,354.28 L749.69,357.01 L751.25,356.94 L752.81,359.22 L754.38,360.82 L755.94,361.80 L757.50,362.19 L759.29,363.08 L761.07,365.02 L762.86,366.96 L764.64,367.15 L766.43,369.42 L768.21,369.39 L770.00,371.95 L772.08,371.38 L774.17,372.79 L776.25,374.71 L778.33,375.47 L780.42,376.57 L782.50,377.38 L784.37,378.37 L786.23,379.42 L788.10,379.70 L789.97,381.29 L791.83,381.97 L793.70,384.07 L795.94,384.79 L798.18,384.88 L800.42,385.36 L802.66,387.69 L804.90,388.22 L807.16,388.46 L809.42,389.13 L811.68,390.34 L813.94,390.34 L816.20,390.92 L818.40,391.83 L820.60,392.69 L822.85,391.19 L825.10,391.15 L827.37,391.49 L829.63,392.49 L831.90,392.36 L834.14,393.21 L836.38,393.21 L838.62,393.54 L840.86,394.13 L843.10,395.46 L845.34,394.51 L847.58,394.29 L849.82,394.43 L852.06,393.57 L854.30,392.96 L856.56,394.29 L858.82,394.68 L861.08,395.37 L863.34,395.46 L865.60,396.32 L867.84,396.39 L870.08,395.56 L872.32,395.99 L874.56,395.96 L876.80,395.53 L879.04,396.09 L881.28,396.58 L883.52,397.41 L885.76,397.67 L888.00,396.82 L890.26,397.45 L892.52,396.43 L894.78,396.47 L897.04,397.22 L899.30,397.84 L901.54,396.62 L903.77,397.65 L906.01,397.85 L908.25,396.88 L910.49,397.53 L912.73,397.79 L914.96,396.98 L917.20,397.54 L919.20,397.55 L921.20,397.25 L923.20,397.64 L925.20,397.65 L927.20,397.70 L929.20,396.99 L931.20,396.26 L933.20,396.33 L935.20,396.22 L937.43,397.35 L939.67,398.20 L941.90,397.54 L944.17,397.84 L946.43,397.14 L948.70,395.74 L950.95,395.93 L953.20,395.23 L955.45,396.09 L957.70,394.82 L959.93,397.49 L962.15,398.27 L964.38,399.04 L966.60,399.50 L968.85,401.43 L971.10,402.33 L973.35,401.76 L975.60,403.67 L977.58,403.28 L979.55,402.47 L981.52,402.04 L983.50,401.11" stroke="#ff00ff" stroke-width="4.4"/>
</g>
<g class="t"><text x="126.3" y="646.90" text-anchor="end">80</text><text x="126.3" y="492.92" text-anchor="end">85</text><text x="126.3" y="338.95" text-anchor="end">90</text><text x="126.3" y="184.97" text-anchor="end">95</text><text x="126.3" y="31.00" text-anchor="end">100</text><text x="147.40" y="682.8" text-anchor="middle">0</text><text x="314.74" y="682.8" text-anchor="middle">200</text><text x="482.08" y="682.8" text-anchor="middle">400</text><text x="649.42" y="682.8" text-anchor="middle">600</text><text x="816.76" y="682.8" text-anchor="middle">800</text><text x="984.10" y="682.8" text-anchor="middle">1000</text></g>
<g class="b" font-size="34">
<text x="875.8" y="70.4">E400</text>
<text x="875.8" y="131.4">E400S</text>
<text x="878.5" y="375.8">F110S</text>
<text x="887.3" y="445.9">F110</text>
</g>
<text class="b" x="422.3" y="731.5" font-size="39.5" letter-spacing="-0.33">Temperature /</text>
<text x="686.5" y="737.8" font-family="Liberation Serif" font-size="45" letter-spacing="-1.2">°C</text>
<text class="b" transform="translate(37.1,412.4) rotate(-90)" font-size="39.5" letter-spacing="-0.3">Relative weight / %</text>
</svg>
</body></html>
